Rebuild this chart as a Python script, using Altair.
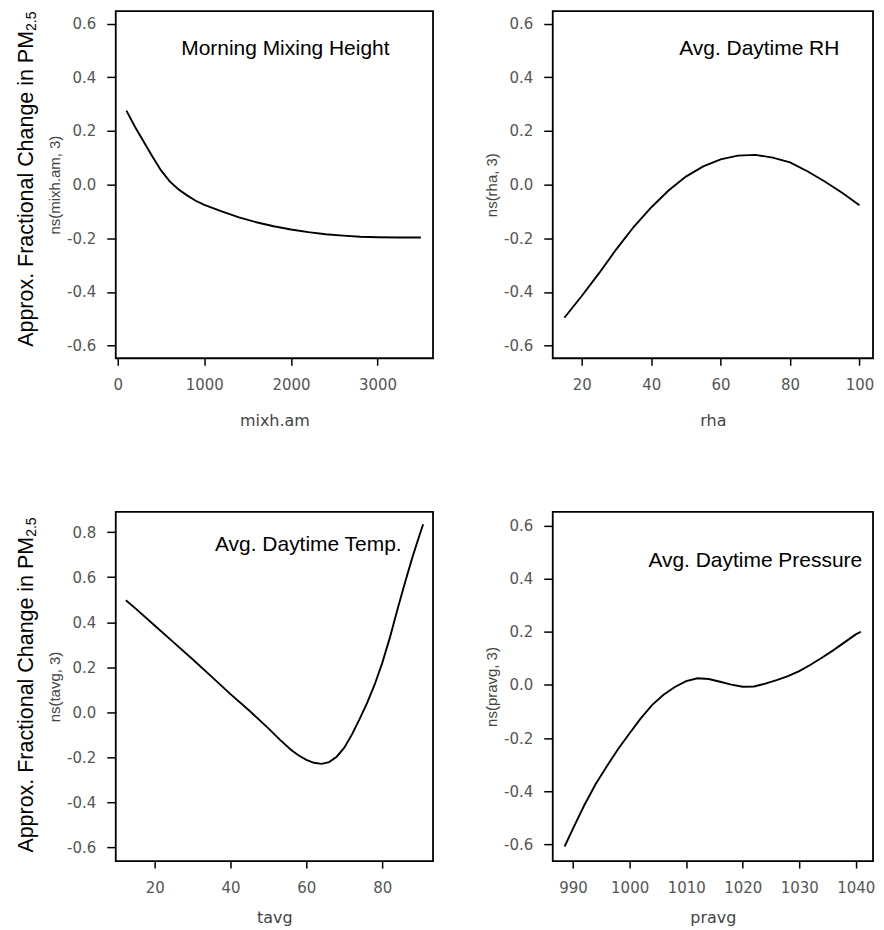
import altair as alt
import pandas as pd

# ---- data ----
mixh_am = [100, 200, 300, 400, 500, 600, 700, 800, 900, 1000, 1200, 1400, 1600,
           1800, 2000, 2200, 2400, 2600, 2800, 3000, 3250, 3500]
mixh_fit = [0.276, 0.215, 0.160, 0.105, 0.053, 0.012, -0.017, -0.040, -0.060, -0.075,
            -0.100, -0.122, -0.140, -0.155, -0.167, -0.177, -0.185, -0.190, -0.194,
            -0.196, -0.197, -0.197]

rha = [15, 20, 25, 30, 35, 40, 45, 50, 55, 60, 65, 70, 75, 80, 85, 90, 95, 100]
rha_fit = [-0.496, -0.415, -0.33, -0.24, -0.157, -0.085, -0.022, 0.03, 0.068, 0.094,
           0.108, 0.111, 0.101, 0.083, 0.05, 0.012, -0.03, -0.077]

tavg = [12.4, 15, 20, 25, 30, 35, 40, 45, 50, 53, 56, 58, 60, 62, 64, 66, 68, 70,
        72, 74, 76, 78, 80, 82, 84, 86, 88, 90, 90.8]
tavg_fit = [0.497, 0.46, 0.385, 0.31, 0.235, 0.158, 0.08, 0.006, -0.072, -0.122,
            -0.168, -0.193, -0.212, -0.225, -0.23, -0.222, -0.198, -0.158, -0.1,
            -0.032, 0.04, 0.122, 0.218, 0.33, 0.455, 0.575, 0.69, 0.795, 0.835]

pravg = [988.5, 990, 992, 994, 996, 998, 1000, 1002, 1004, 1006, 1008, 1010, 1012,
         1014, 1016, 1018, 1020, 1022, 1024, 1026, 1028, 1030, 1032, 1034, 1036,
         1038, 1040, 1040.9]
pravg_fit = [-0.608, -0.54, -0.452, -0.373, -0.305, -0.24, -0.182, -0.125, -0.075,
             -0.037, -0.008, 0.014, 0.025, 0.022, 0.012, 0.001, -0.007, -0.006,
             0.005, 0.018, 0.033, 0.052, 0.076, 0.102, 0.13, 0.16, 0.19, 0.2]

panel_titles = ["Morning Mixing Height", "Avg. Daytime RH", "Avg. Daytime Temp.",
                "Avg. Daytime Pressure"]
x_titles = ["mixh.am", "rha", "tavg", "pravg"]
y_titles = ["ns(mixh.am, 3)", "ns(rha, 3)", "ns(tavg, 3)", "ns(pravg, 3)"]
x_ticks = [[0, 1000, 2000, 3000], [20, 40, 60, 80, 100], [20, 40, 60, 80],
           [990, 1000, 1010, 1020, 1030, 1040]]
y_ticks_std = [-0.6, -0.4, -0.2, 0.0, 0.2, 0.4, 0.6]
y_ticks_temp = [-0.6, -0.4, -0.2, 0.0, 0.2, 0.4, 0.6, 0.8]
big_label = "Approx. Fractional Change in PM"
big_sub = "2.5"

MINUS_FIX = "replace(format(datum.value, '.1f'), '\u2212', '-')"


def panel(xs, ys, i, xdom, ydom, yticks, w, h, tx, ty, left, big_y, xtitle_y):
    df = pd.DataFrame({"x": xs, "y": ys})
    line = alt.Chart(df).mark_line(color="black", strokeWidth=1.9).encode(
        x=alt.X("x:Q",
                scale=alt.Scale(domain=xdom, nice=False, zero=False),
                axis=alt.Axis(values=x_ticks[i], format="d", title=x_titles[i],
                              tickSize=7, labelPadding=19, labelBaseline="middle",
                              titleX=w / 2, titleY=xtitle_y, titleAlign="center",
                              titleBaseline="middle")),
        y=alt.Y("y:Q",
                scale=alt.Scale(domain=ydom, nice=False, zero=False),
                axis=alt.Axis(values=yticks, labelExpr=MINUS_FIX, title=y_titles[i],
                              tickSize=9, labelPadding=11, titleX=-61, titleY=h / 2,
                              titleAngle=270, titleAlign="center",
                              titleBaseline="middle")),
    )
    ttl = alt.Chart(pd.DataFrame({"t": [panel_titles[i]]})).mark_text(
        font="Liberation Sans", fontSize=21, color="black", align="center",
        baseline="alphabetic").encode(text="t:N", x=alt.value(tx), y=alt.value(ty))
    layers = [line, ttl]
    if left:
        big = alt.Chart(pd.DataFrame({"t": [big_label]})).mark_text(
            font="Liberation Sans", fontSize=21.5, color="black", angle=270,
            align="right", baseline="alphabetic").encode(
            text="t:N", x=alt.value(-83), y=alt.value(big_y))
        sub = alt.Chart(pd.DataFrame({"t": [big_sub]})).mark_text(
            font="Liberation Sans", fontSize=14, color="black", angle=270,
            align="left", baseline="alphabetic").encode(
            text="t:N", x=alt.value(-79.5), y=alt.value(big_y))
        layers += [big, sub]
    return alt.layer(*layers).properties(width=w, height=h)


tl = panel(mixh_am, mixh_fit, 0, [-23, 3640], [-0.647, 0.647], y_ticks_std,
           318, 348, 170, 44, True, 20, 62)
tr = panel(rha, rha_fit, 1, [11.65, 103.9], [-0.647, 0.647], y_ticks_std,
           321, 348, 207, 44, False, 20, 62)
bl = panel(tavg, tavg_fit, 2, [9.74, 93.4], [-0.662, 0.89], y_ticks_temp,
           318, 350, 193, 39, True, 25, 57)
br = panel(pravg, pravg_fit, 3, [986.4, 1043.05], [-0.663, 0.651], y_ticks_std,
           321, 350, 203, 55, False, 25, 57)

chart = alt.vconcat(
    alt.hconcat(tl, tr, spacing=50),
    alt.hconcat(bl, br, spacing=50),
    spacing=82,
).properties(
    padding={"left": 7, "top": 1, "right": 0, "bottom": 0}
).configure_view(
    stroke="black", strokeWidth=1.8
).configure_axis(
    labelFont="DejaVu Sans", labelFontSize=15, labelColor="#555555",
    tickColor="black", tickWidth=1.5, domain=False, grid=False,
    labelFlush=False, labelOverlap=False, titleFontWeight="normal",
    titleColor="#444444"
).configure_axisX(
    titleFont="DejaVu Sans", titleFontSize=16
).configure_axisY(
    titleFont="Liberation Sans", titleFontSize=15
)

chart.save("out.html", embed_options={"renderer": "svg", "actions": False})
